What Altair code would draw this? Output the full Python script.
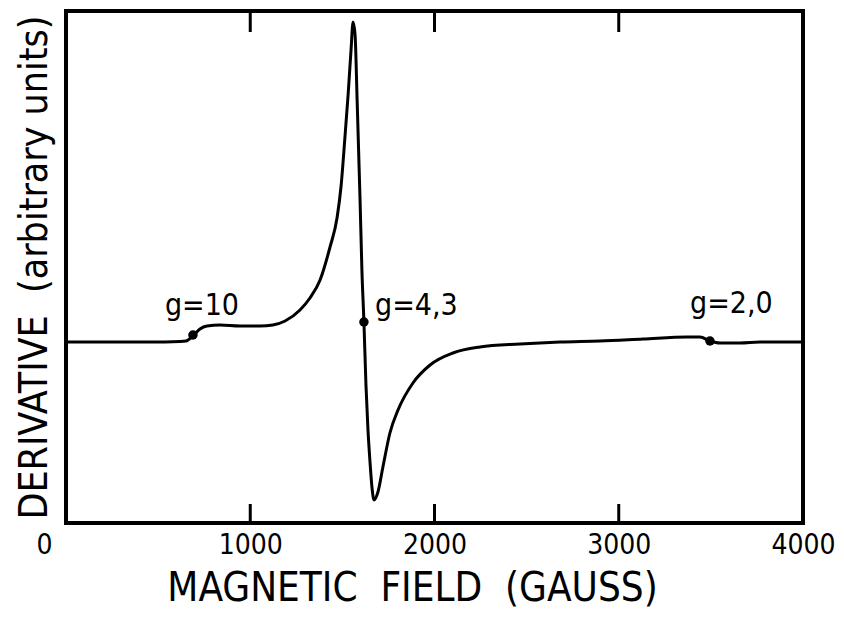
import altair as alt
import pandas as pd

# Magnetic field (gauss) and derivative signal (arbitrary units)
field_gauss = [0, 456, 619, 651, 689, 727, 765, 836, 944, 1053, 1123, 1189, 1270, 1324,
               1379, 1433, 1471, 1493, 1514, 1531, 1547, 1558, 1569, 1580, 1596, 1606,
               1617, 1628, 1639, 1650, 1661, 1672, 1693, 1720, 1758, 1802, 1883, 1976,
               2100, 2247, 2464, 2681, 2898, 3132, 3370, 3441, 3495, 3550, 3658, 3767, 4000]
derivative = [0, 0, 0.005, 0.01, 0.06, 0.13, 0.16, 0.17, 0.16, 0.16, 0.17, 0.21, 0.32, 0.44,
              0.62, 0.95, 1.24, 1.56, 2.05, 2.47, 2.92, 3.20, 3.07, 2.42, 1.42, 0.72,
              0.20, -0.43, -0.88, -1.20, -1.46, -1.58, -1.50, -1.25, -0.91, -0.68, -0.41, -0.23,
              -0.11, -0.05, -0.02, 0, 0.01, 0.03, 0.05, 0.05, 0.01, -0.01, -0.01, 0, 0]

# marked g-values
g_labels = ["g=10", "g=4,3", "g=2,0"]
g_dot_field = [689, 1617, 3495]
g_dot_deriv = [0.07, 0.20, 0.01]
g_text_field = [537, 1677, 3387]
g_text_deriv = [0.27, 0.27, 0.29]

x_ticks = [0, 1000, 2000, 3000, 4000]
inner_ticks = [1000, 2000, 3000]

FONT = "Liberation Sans Narrow, DejaVu Sans Condensed, Liberation Sans, sans-serif"

curve = pd.DataFrame({"field": field_gauss, "deriv": derivative})
dots = pd.DataFrame({"field": g_dot_field, "deriv": g_dot_deriv})
texts = pd.DataFrame({"field": g_text_field, "deriv": g_text_deriv, "label": g_labels})
ticks = pd.DataFrame({"field": inner_ticks})

xscale = alt.Scale(domain=[0, 4000], nice=False, zero=False)
yscale = alt.Scale(domain=[-1.81, 3.31], nice=False, zero=False)

line = alt.Chart(curve).mark_line(color="black", strokeWidth=3, interpolate="monotone").encode(
    x=alt.X("field:Q", scale=xscale,
            axis=alt.Axis(values=x_ticks, format="d", ticks=False, domain=False, grid=False,
                          labelFontSize=28, labelFont=FONT, labelColor="black",
                          labelPadding=8, labelFlush=False,
                          labelOffset={"condition": {"test": "datum.value === 0", "value": -22},
                                       "value": 0},
                          title="MAGNETIC\u00a0 FIELD\u00a0 (GAUSS)",
                          titleFont=FONT, titleFontSize=40, titleFontWeight="normal",
                          titleColor="black", titleX=346, titleY=77,
                          titleBaseline="alphabetic")),
    y=alt.Y("deriv:Q", scale=yscale,
            axis=alt.Axis(ticks=False, domain=False, labels=False, grid=False,
                          title="DERIVATIVE\u00a0\u00a0(arbitrary\u00a0units)",
                          titleFont=FONT, titleFontSize=39, titleFontWeight="normal",
                          titleColor="black", titlePadding=12)),
)

pts = alt.Chart(dots).mark_circle(color="black", size=90, opacity=1).encode(
    x=alt.X("field:Q", scale=xscale), y=alt.Y("deriv:Q", scale=yscale))

lbl = alt.Chart(texts).mark_text(align="left", baseline="alphabetic", fontSize=30,
                                 font=FONT, color="black").encode(
    x=alt.X("field:Q", scale=xscale), y=alt.Y("deriv:Q", scale=yscale), text="label:N")

bottom_ticks = alt.Chart(ticks).mark_rule(color="black", strokeWidth=3).encode(
    x=alt.X("field:Q", scale=xscale), y=alt.value(512), y2=alt.value(493))
top_ticks = alt.Chart(ticks).mark_rule(color="black", strokeWidth=3).encode(
    x=alt.X("field:Q", scale=xscale), y=alt.value(0), y2=alt.value(21))

chart = alt.layer(line, bottom_ticks, top_ticks, pts, lbl).properties(
    width=737, height=512,
    autosize=alt.AutoSizeParams(type="none"),
    padding={"left": 66, "top": 11, "right": 41, "bottom": 96},
    background="white",
).configure_view(stroke="black", strokeWidth=4)

chart.save("out.html", embed_options={"renderer": "svg", "actions": False})
